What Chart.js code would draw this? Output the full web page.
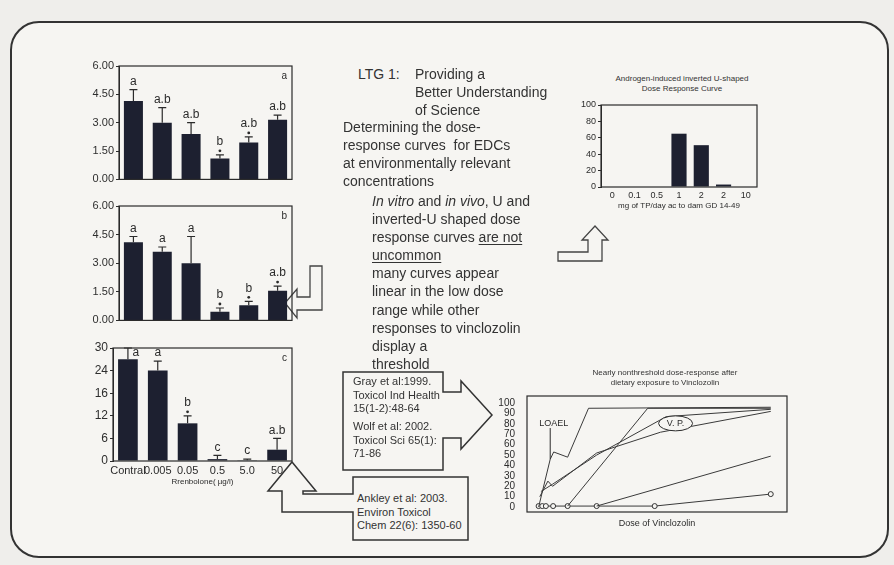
<!DOCTYPE html>
<html>
<head>
<meta charset="utf-8">
<script src="https://cdn.jsdelivr.net/npm/chart.js@4.4.1/dist/chart.umd.min.js"></script>
<style>
  html, body { margin: 0; padding: 0; background: #efeeeb; }
  #slide { position: relative; width: 894px; height: 565px; overflow: hidden; font-family: Arial, "Liberation Sans", sans-serif; color: #2a2a2a; }
  #slide canvas { position: absolute; }
  svg { position: absolute; left: 0; top: 0; }
  .t { position: absolute; white-space: nowrap; font-size: 14px; line-height: 18.1px; color: #333; }
  .ref { position: absolute; white-space: nowrap; font-size: 11px; line-height: 13.5px; color: #333; }
  .ctitle { position: absolute; font-size: 8px; line-height: 10px; text-align: center; white-space: nowrap; color: #333; }
  u { text-decoration-thickness: 1px; text-underline-offset: 2px; }
</style>
</head>
<body>
<div id="slide">
  <svg width="894" height="565">
    <rect x="11" y="22" width="877" height="535" rx="28" fill="#f6f5f2" stroke="#333" stroke-width="2"/>
    <!-- left arrow next to panel b -->
    <polygon points="310,266 322,266 322,310 297,310 297,318 285,303 297,289 297,297 310,297" fill="#f6f5f2" stroke="#444" stroke-width="1.3"/>
    <!-- up arrow under the top right chart -->
    <polygon points="558,252 588,252 588,240 582,240 595,226 608,240 602,240 602,261 558,261" fill="#f6f5f2" stroke="#444" stroke-width="1.3"/>
    <!-- Gray / Wolf box with arrow -->
    <polygon points="343,372 443,372 443,392 461,392 461,381 492,415 461,449 461,438 443,438 443,470 343,470" fill="#f6f5f2" stroke="#333" stroke-width="1.5"/>
    <!-- Ankley box with arrow -->
    <polygon points="353,477 468,477 468,540 353,540 353,512 282,512 282,491 268,491 292,462 316,491 303,491 303,494 353,494" fill="#f6f5f2" stroke="#333" stroke-width="1.5"/>
  </svg>

  <canvas id="chartA" width="216" height="132" style="left:78px;top:56px"></canvas>
  <canvas id="chartB" width="216" height="133" style="left:78px;top:196px"></canvas>
  <canvas id="chartC" width="216" height="151" style="left:78px;top:338px"></canvas>
  <canvas id="chartTP" width="190" height="116" style="left:570px;top:96px"></canvas>
  <canvas id="chartVin" width="297" height="145" style="left:495px;top:386px"></canvas>

  <div class="ctitle" style="left:582px;top:74px;width:200px">Androgen-induced inverted U-shaped<br>Dose Response Curve</div>
  <div class="ctitle" style="left:565px;top:368px;width:200px">Nearly nonthreshold dose-response after<br>dietary exposure to Vinclozolin</div>

  <div class="t" style="left:358px;top:65px">LTG 1:</div>
  <div class="t" style="left:415px;top:65px">Providing a</div>
  <div class="t" style="left:415px;top:83px">Better Understanding</div>
  <div class="t" style="left:415px;top:101px">of Science</div>
  <div class="t" style="left:343px;top:118px">Determining the dose-<br>response curves&nbsp; for EDCs<br>at environmentally relevant<br>concentrations</div>
  <div class="t" style="left:372px;top:192px"><i>In vitro</i> and <i>in vivo</i>, U and<br>inverted-U shaped dose<br>response curves <u>are not</u><br><u>uncommon</u><br>many curves appear<br>linear in the low dose<br>range while other<br>responses to vinclozolin<br>display a<br>threshold</div>

  <div class="ref" style="left:353px;top:375px">Gray et al:1999.<br>Toxicol Ind Health<br>15(1-2):48-64</div>
  <div class="ref" style="left:353px;top:420px">Wolf et al: 2002.<br>Toxicol Sci 65(1):<br>71-86</div>
  <div class="ref" style="left:357px;top:492px">Ankley et al: 2003.<br>Environ Toxicol<br>Chem 22(6): 1350-60</div>
</div>

<script>
// Trenbolone panels (a, b, c)
const doseLabels = ['Contral', '0.005', '0.05', '0.5', '5.0', '50'];

const panelA = [4.15, 3.0, 2.4, 1.1, 1.95, 3.15];
const panelAErr = [0.6, 0.8, 0.6, 0.2, 0.3, 0.25];
const panelALetters = ['a', 'a.b', 'a.b', 'b', 'a.b', 'a.b'];
const panelAStar = [false, false, false, true, true, false];

const panelB = [4.1, 3.6, 3.0, 0.45, 0.8, 1.55];
const panelBErr = [0.3, 0.25, 1.4, 0.2, 0.2, 0.25];
const panelBLetters = ['a', 'a', 'a', 'b', 'b', 'a.b'];
const panelBStar = [false, false, false, true, true, true];

const panelC = [27, 24, 10, 0.5, 0.2, 3];
const panelCErr = [3, 2.5, 2, 1, 0.3, 3];
const panelCLetters = ['a', 'a', 'b', 'c', 'c', 'a.b'];
const panelCStar = [false, false, true, false, false, false];
const panelCTicks = ['0', '6', '12', '16', '24', '30'];

// Androgen inverted-U chart
const tpDoses = ['0', '0.1', '0.5', '1', '2', '2', '10'];
const tpResponse = [0, 0, 0, 65, 51, 3, 0];

// Vinclozolin dose-response curves
const vinLoael = [{x: 0, y: 0}, {x: 10, y: 46}, {x: 13, y: 53}, {x: 25, y: 48}, {x: 43, y: 95}, {x: 200, y: 96}];
const vinCurve2 = [{x: 1, y: 10}, {x: 8, y: 25}, {x: 12, y: 20}, {x: 50, y: 52}, {x: 105, y: 72}, {x: 200, y: 92}];
const vinCurve3 = [{x: 2, y: 15}, {x: 12, y: 22}, {x: 50, y: 50}, {x: 110, y: 87}, {x: 200, y: 94}];
const vinCurve4 = [{x: 25, y: 1}, {x: 94, y: 95}, {x: 200, y: 95}];
const vinCurve5 = [{x: 50, y: 1}, {x: 200, y: 49}];
const vinCircles = [{x: 0, y: 1}, {x: 3.125, y: 1}, {x: 6.25, y: 1}, {x: 12.5, y: 1}, {x: 25, y: 1}, {x: 50, y: 1}, {x: 100, y: 1}, {x: 200, y: 12.5}];

Chart.defaults.font.family = 'Arial, "Liberation Sans", sans-serif';
Chart.defaults.color = '#2e2e2e';
Chart.defaults.animation = false;
Chart.defaults.plugins.legend.display = false;
Chart.defaults.plugins.tooltip.enabled = false;

const ink = '#2b2b2b';
const barColor = '#1d2030';

// box round the plot area
const frame = {
  id: 'frame',
  afterDraw(chart) {
    const a = chart.chartArea, ctx = chart.ctx;
    ctx.save();
    ctx.strokeStyle = ink;
    ctx.lineWidth = 1.2;
    ctx.strokeRect(a.left, a.top, a.right - a.left, a.bottom - a.top);
    ctx.restore();
  }
};

// error bars, group letters and the panel letter
const barDeco = {
  id: 'barDeco',
  afterDatasetsDraw(chart, args, o) {
    if (!o.errs) return;
    const ctx = chart.ctx, a = chart.chartArea, ys = chart.scales.y;
    const meta = chart.getDatasetMeta(0);
    ctx.save();
    ctx.strokeStyle = ink;
    ctx.fillStyle = ink;
    ctx.lineWidth = 1.2;
    meta.data.forEach((bar, i) => {
      const top = ys.getPixelForValue(o.vals[i] + o.errs[i]);
      ctx.beginPath();
      ctx.moveTo(bar.x, bar.y);
      ctx.lineTo(bar.x, top);
      ctx.moveTo(bar.x - 4, top);
      ctx.lineTo(bar.x + 4, top);
      ctx.stroke();
      let ly = top - 2, lx = bar.x;
      if (o.stars[i]) {
        ctx.beginPath();
        ctx.arc(bar.x, top - 4, 1.4, 0, Math.PI * 2);
        ctx.fill();
        ly = top - 7;
      }
      if (ly < a.top + 11) { ly = a.top + 11; lx = bar.x + 8; }
      ctx.font = '12px Arial, "Liberation Sans", sans-serif';
      ctx.textAlign = 'center';
      ctx.textBaseline = 'bottom';
      ctx.fillText(o.letters[i], lx, ly);
    });
    ctx.font = '10px Arial, "Liberation Sans", sans-serif';
    ctx.textAlign = 'right';
    ctx.textBaseline = 'top';
    ctx.fillText(o.corner, a.right - 5, a.top + 5);
    ctx.restore();
  }
};

function panel(id, vals, errs, letters, stars, corner, yOpts, showX) {
  const x = {
    display: showX,
    grid: { display: false, drawTicks: false },
    border: { display: false },
    ticks: { font: { size: 11 }, padding: 3, color: ink, maxRotation: 0, minRotation: 0, autoSkip: false },
    title: { display: showX, text: 'Rrenbolone( µg/l)', font: { size: 8 }, padding: 0, color: ink }
  };
  if (showX) x.afterFit = s => { s.height = 26; };
  return new Chart(document.getElementById(id), {
    type: 'bar',
    data: {
      labels: doseLabels,
      datasets: [{ data: vals, backgroundColor: barColor, barPercentage: 0.66, categoryPercentage: 1 }]
    },
    options: {
      responsive: false,
      layout: { padding: { top: 10, right: 2, bottom: showX ? 2 : 5, left: 0 } },
      scales: {
        x: x,
        y: Object.assign({
          min: 0,
          grid: { drawOnChartArea: false, tickLength: 3, color: ink },
          border: { color: ink },
          afterFit: s => { s.width = yOpts.width; }
        }, yOpts.scale)
      },
      plugins: { barDeco: { vals, errs, letters, stars, corner } }
    },
    plugins: [frame, barDeco]
  });
}

panel('chartA', panelA, panelAErr, panelALetters, panelAStar, 'a', {
  width: 41,
  scale: { max: 6, ticks: { stepSize: 1.5, font: { size: 11 }, padding: 2, callback: v => v.toFixed(2) } }
}, false);

panel('chartB', panelB, panelBErr, panelBLetters, panelBStar, 'b', {
  width: 41,
  scale: { max: 6, ticks: { stepSize: 1.5, font: { size: 11 }, padding: 2, callback: v => v.toFixed(2) } }
}, false);

panel('chartC', panelC, panelCErr, panelCLetters, panelCStar, 'c', {
  width: 35,
  scale: { max: 30, ticks: { stepSize: 6, font: { size: 12 }, padding: 2, callback: (v, i) => panelCTicks[i] } }
}, true);

// Androgen-induced inverted U-shaped dose response
new Chart(document.getElementById('chartTP'), {
  type: 'bar',
  data: {
    labels: tpDoses,
    datasets: [{ data: tpResponse, backgroundColor: barColor, barPercentage: 0.68, categoryPercentage: 1 }]
  },
  options: {
    responsive: false,
    layout: { padding: { top: 9, right: 3, bottom: 1, left: 0 } },
    scales: {
      x: {
        grid: { display: false, drawTicks: false },
        border: { display: false },
        ticks: { font: { size: 9 }, padding: 3, color: ink, maxRotation: 0, minRotation: 0, autoSkip: false },
        title: { display: true, text: 'mg of TP/day ac to dam GD 14-49', font: { size: 8 }, padding: { top: 1, bottom: 0 }, color: ink },
        afterFit: s => { s.height = 24; }
      },
      y: {
        min: 0, max: 100,
        grid: { drawOnChartArea: false, tickLength: 3, color: ink },
        border: { color: ink },
        ticks: { stepSize: 20, font: { size: 9 }, padding: 2, color: ink },
        afterFit: s => { s.width = 31; }
      }
    }
  },
  plugins: [frame]
});

// LOAEL label and the V.P. ellipse, placed in data units
const vinNotes = {
  id: 'vinNotes',
  afterDatasetsDraw(chart) {
    const ctx = chart.ctx, xs = chart.scales.x, ys = chart.scales.y;
    ctx.save();
    ctx.strokeStyle = ink;
    ctx.fillStyle = ink;
    ctx.lineWidth = 1;
    ctx.font = '9px Arial, "Liberation Sans", sans-serif';
    ctx.textAlign = 'center';
    ctx.textBaseline = 'middle';
    ctx.fillText('LOAEL', xs.getPixelForValue(13), ys.getPixelForValue(80));
    ctx.beginPath();
    ctx.moveTo(xs.getPixelForValue(10), ys.getPixelForValue(76));
    ctx.lineTo(xs.getPixelForValue(10), ys.getPixelForValue(46));
    ctx.stroke();
    const cx = xs.getPixelForValue(118), cy = ys.getPixelForValue(80.5);
    ctx.fillStyle = '#f6f5f2';
    ctx.beginPath();
    ctx.ellipse(cx, cy, 17, 7.5, 0, 0, Math.PI * 2);
    ctx.fill();
    ctx.stroke();
    ctx.fillStyle = ink;
    ctx.fillText('V. P.', cx, cy);
    ctx.restore();
  }
};

const thin = { borderColor: '#3a3a3a', borderWidth: 1, pointRadius: 0, tension: 0, fill: false };

new Chart(document.getElementById('chartVin'), {
  type: 'line',
  data: {
    datasets: [
      Object.assign({ data: vinLoael }, thin),
      Object.assign({ data: vinCurve2 }, thin),
      Object.assign({ data: vinCurve3 }, thin),
      Object.assign({ data: vinCurve4 }, thin),
      Object.assign({ data: vinCurve5 }, thin),
      Object.assign({ data: vinCircles }, thin, { pointRadius: 2.5, pointBackgroundColor: '#f6f5f2', pointBorderColor: '#333', pointBorderWidth: 1 })
    ]
  },
  options: {
    responsive: false,
    layout: { padding: { top: 6, right: 4, bottom: 2, left: 0 } },
    scales: {
      x: {
        type: 'linear', min: -10, max: 214,
        grid: { display: false },
        border: { display: false },
        ticks: { display: false },
        title: { display: true, text: 'Dose of Vinclozolin', font: { size: 9 }, padding: 0, color: ink },
        afterFit: s => { s.height = 17; }
      },
      y: {
        min: -4.7, max: 106.8,
        grid: { display: false },
        border: { display: false },
        ticks: { font: { size: 10 }, padding: 4, color: ink, autoSkip: false },
        afterBuildTicks: s => { s.ticks = [0, 10, 20, 30, 40, 50, 60, 70, 80, 90, 100].map(v => ({ value: v })); },
        afterFit: s => { s.width = 32; }
      }
    }
  },
  plugins: [frame, vinNotes]
});
</script>
</body>
</html>
